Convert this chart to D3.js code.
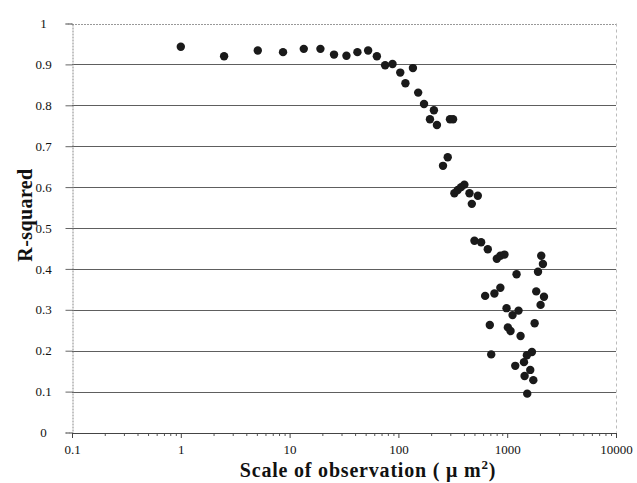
<!DOCTYPE html>
<html>
<head>
<meta charset="utf-8">
<script src="https://cdn.jsdelivr.net/npm/d3@7"></script>
<style>
  html, body { margin: 0; padding: 0; background: #fff; }
  svg { display: block; }
  text { font-family: "Liberation Serif", "Times New Roman", serif; fill: #111; }
</style>
</head>
<body>
<svg id="chart" width="637" height="483"></svg>
<script>
// Scale of observation (µm²)
const scaleValues = [1, 2.5, 5.1, 8.7, 13.5, 19.2, 25.6, 33.3, 42, 52.7, 63.4, 75.5, 88.3, 104, 116, 136, 152,
  172, 195, 212, 226, 257, 284, 298, 318, 327, 351, 377, 404, 450, 473, 537, 500, 576, 663, 803, 865, 944,
  2055, 2130, 1920, 1219, 1849, 2178, 2027, 865, 763, 627, 986, 1120, 1271, 692, 1787, 1014, 1073, 1327,
  713, 1687, 1517, 1426, 1186, 1629, 1445, 1738, 1528];
// R-squared
const rSquared = [0.943, 0.920, 0.934, 0.930, 0.938, 0.938, 0.924, 0.921, 0.930, 0.934, 0.920, 0.898, 0.901,
  0.880, 0.854, 0.891, 0.831, 0.803, 0.766, 0.788, 0.752, 0.652, 0.673, 0.766, 0.766, 0.585, 0.593, 0.600,
  0.606, 0.585, 0.559, 0.579, 0.469, 0.465, 0.448, 0.425, 0.432, 0.435, 0.432, 0.412, 0.393, 0.387, 0.345,
  0.332, 0.312, 0.354, 0.340, 0.334, 0.304, 0.287, 0.298, 0.263, 0.267, 0.257, 0.248, 0.236, 0.191, 0.197,
  0.189, 0.172, 0.163, 0.153, 0.138, 0.128, 0.095];

const xTickLabels = ["0.1", "1", "10", "100", "1000", "10000"];
const yTickLabels = ["0", "0.1", "0.2", "0.3", "0.4", "0.5", "0.6", "0.7", "0.8", "0.9", "1"];

const svg = d3.select("#chart");
const plotLeft = 72, plotRight = 616, plotTop = 23.5, plotBottom = 432.5;

const x = d3.scaleLog().domain([0.1, 10000]).range([plotLeft, plotRight]);
const y = d3.scaleLinear().domain([0, 1]).range([plotBottom, plotTop]);

const yTicks = yTickLabels.map(Number);
const xTicks = xTickLabels.map(Number);

// horizontal gridlines
svg.append("g").selectAll("line")
  .data(yTicks.filter(v => v > 0 && v < 1))
  .join("line")
  .attr("x1", plotLeft).attr("x2", plotRight)
  .attr("y1", d => Math.round(y(d)) + 0.5).attr("y2", d => Math.round(y(d)) + 0.5)
  .attr("stroke", "#5e5e5e").attr("stroke-width", 1.1);

// top border (dotted) and right border (dashed)
svg.append("line").attr("x1", plotLeft).attr("x2", plotRight)
  .attr("y1", Math.round(y(1)) + 0.5).attr("y2", Math.round(y(1)) + 0.5)
  .attr("stroke", "#999").attr("stroke-dasharray", "2,1");
svg.append("line").attr("x1", plotRight + 0.5).attr("x2", plotRight + 0.5)
  .attr("y1", y(1)).attr("y2", plotBottom)
  .attr("stroke", "#bbb").attr("stroke-dasharray", "3,3");

// y axis
const yAxis = d3.axisLeft(y).tickValues(yTicks).tickSize(7).tickFormat((d, i) => yTickLabels[i]);
const gy = svg.append("g").attr("transform", `translate(${plotLeft + 0.5},0)`).call(yAxis);
gy.select(".domain").attr("stroke", "#888").attr("stroke-dasharray", "2,1");
gy.selectAll(".tick line").attr("stroke", "#666");
gy.selectAll(".tick text")
  .attr("x", -29).attr("text-anchor", "middle")
  .style("font-family", "Liberation Serif").style("font-size", "13px").attr("fill", "#111");

// x axis
const minorTicks = [];
for (let e = -1; e < 4; e++) for (let k = 2; k <= 9; k++) minorTicks.push(k * Math.pow(10, e));
const xAxisMinor = d3.axisBottom(x).tickValues(minorTicks).tickSize(3).tickFormat("");
const gxm = svg.append("g").attr("transform", `translate(0,${plotBottom + 0.5})`).call(xAxisMinor);
gxm.select(".domain").remove();
gxm.selectAll(".tick line").attr("stroke", "#555");

const xAxis = d3.axisBottom(x).tickValues(xTicks).tickSize(5).tickFormat((d, i) => xTickLabels[i]);
const gx = svg.append("g").attr("transform", `translate(0,${plotBottom + 0.5})`).call(xAxis);
gx.select(".domain").attr("stroke", "#444");
gx.selectAll(".tick line").attr("stroke", "#444");
gx.selectAll(".tick text").attr("y", 12)
  .style("font-family", "Liberation Serif").style("font-size", "13px").attr("fill", "#111");

// points
svg.append("g").selectAll("circle")
  .data(scaleValues.map((s, i) => [s, rSquared[i]]))
  .join("circle")
  .attr("cx", d => x(d[0])).attr("cy", d => y(d[1]))
  .attr("r", 4.2).attr("fill", "#1a1a1a");

// axis titles
svg.append("text")
  .attr("transform", `translate(32,215) rotate(-90)`)
  .attr("text-anchor", "middle")
  .style("font-size", "20px").style("font-weight", "bold")
  .style("letter-spacing", "0.4px")
  .text("R-squared");

const xt = svg.append("text")
  .attr("x", 368).attr("y", 477)
  .attr("text-anchor", "middle")
  .style("font-size", "20px").style("font-weight", "bold")
  .style("letter-spacing", "0.8px");
xt.append("tspan").text("Scale of observation ( μ m");
xt.append("tspan").attr("dy", -8).style("font-size", "13px").text("2");
xt.append("tspan").attr("dy", 8).text(")");
</script>
</body>
</html>
